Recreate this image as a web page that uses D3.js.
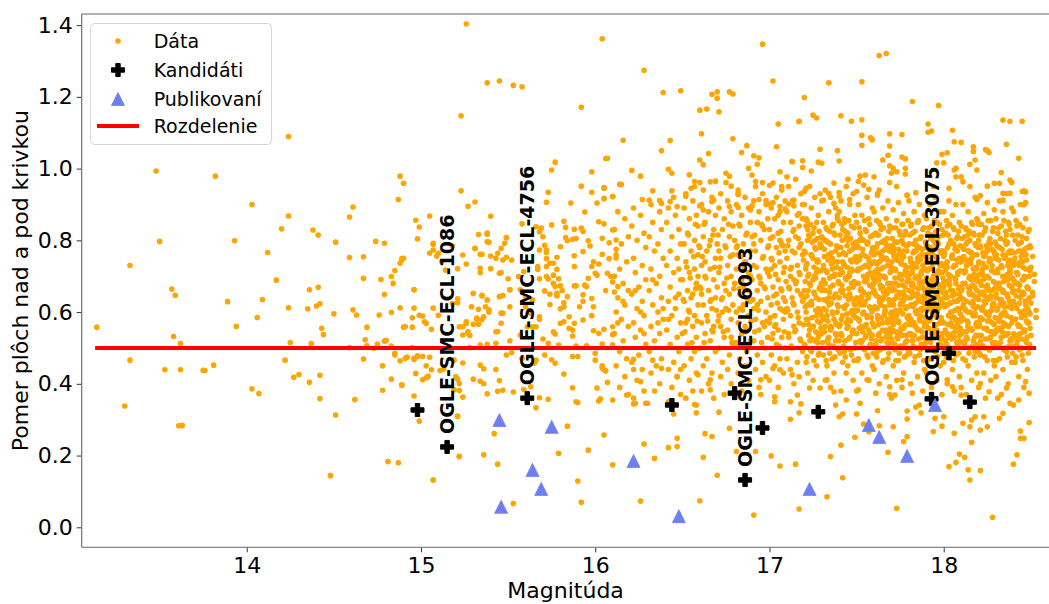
<!DOCTYPE html>
<html>
<head>
<meta charset="utf-8">
<script src="https://cdn.jsdelivr.net/npm/d3@7"></script>
<style>
  body { margin: 0; background: #fff; }
  svg { display: block; font-family: "DejaVu Sans", sans-serif; }
</style>
</head>
<body>
<div id="chart-area"></div>
<script>
// ticks, legend, split line
var xTicks = [14, 15, 16, 17, 18];
var yTicks = [0.0, 0.2, 0.4, 0.6, 0.8, 1.0, 1.2, 1.4];
var legendLabels = ["Dáta", "Kandidáti", "Publikovaní", "Rozdelenie"];
var splitRatio = 0.5;
var splitFrom = 13.13, splitTo = 18.53;

// candidates (black plus) and published (blue triangles)
var candMag   = [14.98, 15.15, 15.61, 16.44, 16.80, 16.86, 16.96, 17.28, 17.93, 18.03, 18.15];
var candRatio = [0.327, 0.224, 0.360, 0.341, 0.374, 0.132, 0.277, 0.322, 0.358, 0.485, 0.349];
var candNames = ["", "OGLE-SMC-ECL-1086", "OGLE-SMC-ECL-4756", "", "", "OGLE-SMC-ECL-6093", "", "", "OGLE-SMC-ECL-3075", "", ""];
var pubMag   = [15.45, 15.46, 15.64, 15.69, 15.75, 16.22, 16.48, 17.23, 17.57, 17.63, 17.79, 17.95];
var pubRatio = [0.299, 0.057, 0.160, 0.107, 0.280, 0.185, 0.031, 0.107, 0.285, 0.252, 0.199, 0.341];

// data points [magnitude, ratio], split by region
var dataLeft = [
  [13.14,0.558],[13.30,0.338],[13.33,0.730],[13.33,0.466],[13.48,0.993],[13.50,0.797],[13.53,0.439],[13.57,0.664],
  [13.58,0.532],[13.59,0.647],[13.61,0.283],[13.62,0.512],[13.62,0.439],[13.63,0.284],[13.75,0.438],[13.76,0.437],
  [13.81,0.452],[13.82,0.979],[13.89,0.629],[13.93,0.799],[13.94,0.560],[14.03,0.900],[14.03,0.386],[14.06,0.585],
  [14.07,0.373],[14.09,0.635],[14.12,0.766],[14.17,0.689],[14.20,0.832],[14.22,0.466],[14.24,1.089],[14.24,0.868],
  [14.24,0.612],[14.25,0.515],[14.27,0.418],[14.30,0.426],[14.35,0.609],[14.36,0.662],[14.36,0.404],[14.37,0.512],
  [14.38,0.829],[14.40,0.617],[14.41,0.815],[14.41,0.669],[14.42,0.623],[14.42,0.424],[14.42,0.359],[14.43,0.555],
  [14.44,0.537],[14.48,0.144],[14.50,0.595],[14.51,0.795],[14.51,0.313],[14.59,0.865],[14.59,0.752],[14.59,0.501],
  [14.61,0.893],[14.61,0.606],[14.62,0.356],[14.63,0.592],[14.67,0.754],[14.67,0.694],[14.67,0.469],[14.68,0.523],
  [14.69,0.558],[14.69,0.506],[14.73,0.499],[14.74,0.797],[14.75,0.511],[14.76,0.592],[14.77,0.691],[14.78,0.450],
  [14.78,0.382],[14.79,0.792],[14.79,0.649],[14.79,0.519],[14.80,0.521],[14.81,0.183],[14.83,0.699],[14.83,0.599],
  [14.83,0.505],[14.83,0.413],[14.84,0.680],[14.85,0.716],[14.85,0.480],[14.85,0.485],[14.87,0.914],[14.87,0.180],
  [14.88,0.979],[14.88,0.736],[14.88,0.612],[14.88,0.464],[14.89,0.749],[14.89,0.396],[14.90,0.959],[14.90,0.558],
  [14.91,0.471],[14.92,0.474],[14.95,0.584],[14.95,0.558],[14.95,0.501],[14.96,0.611],[14.96,0.662],[14.96,0.471],
  [14.96,0.468],[14.96,0.366],[14.97,0.856],[14.97,0.429],[14.98,0.804],[14.98,0.476],[14.98,0.478],[14.99,0.837],
  [14.99,0.296],[14.99,0.591],[14.89,0.745],[14.91,0.559],[14.89,0.397]
];

var dataMid = [
  [15.26,1.403],[16.04,1.362],[15.38,1.239],[15.45,1.244],[15.53,1.232],[15.58,1.228],[15.23,1.147],[15.92,1.171],
  [16.06,1.028],[15.77,1.018],[15.75,0.996],[15.98,0.991],[15.92,0.951],[15.23,0.938],[15.73,0.934],[15.72,0.906],
  [15.98,0.934],[16.05,0.947],[16.05,0.916],[16.10,0.922],[16.01,0.904],[16.14,0.956],[15.27,0.895],[15.31,0.907],
  [15.86,0.904],[15.05,0.868],[15.40,0.867],[15.94,0.879],[16.02,0.852],[16.05,0.846],[15.82,0.853],[15.83,0.836],
  [15.88,0.831],[15.92,0.834],[15.93,0.825],[15.75,0.843],[15.69,0.834],[15.68,0.824],[15.58,0.846],[15.33,0.816],
  [15.38,0.817],[15.39,0.795],[15.49,0.807],[15.48,0.792],[15.07,0.792],[15.07,0.773],[15.09,0.756],[15.05,0.764],
  [15.18,0.784],[15.31,0.778],[15.34,0.761],[15.40,0.756],[15.44,0.764],[15.43,0.750],[15.47,0.745],[15.52,0.745],
  [15.24,0.759],[15.26,0.734],[15.21,0.721],[15.14,0.717],[15.40,0.721],[15.45,0.708],[15.46,0.710],[15.50,0.693],
  [15.34,0.710],[15.30,0.652],[15.35,0.647],[15.47,0.646],[15.51,0.662],[15.71,0.786],[15.68,0.773],[15.72,0.766],
  [15.72,0.749],[15.78,0.753],[15.74,0.736],[15.76,0.736],[15.72,0.727],[15.78,0.719],[15.67,0.719],[15.68,0.693],
  [15.73,0.692],[15.76,0.703],[15.79,0.693],[15.77,0.671],[15.80,0.673],[15.81,0.660],[15.71,0.659],[15.74,0.650],
  [15.78,0.645],[15.83,0.808],[15.84,0.799],[15.87,0.803],[15.89,0.805],[15.88,0.757],[15.88,0.727],[15.80,0.782],
  [15.96,0.799],[15.97,0.784],[15.93,0.769],[15.99,0.740],[16.02,0.734],[15.98,0.727],[16.04,0.806],[16.08,0.793],
  [16.10,0.829],[16.12,0.801],[16.12,0.775],[16.04,0.761],[16.08,0.749],[16.12,0.751],[16.00,0.708],[16.01,0.703],
  [16.07,0.708],[16.09,0.699],[15.96,0.694],[15.89,0.673],[15.94,0.675],[15.93,0.648],[15.88,0.673],[16.06,0.660],
  [16.10,0.684],[16.13,0.671],[16.11,0.656],
  [15.07,0.789],[15.10,0.764],[15.12,0.740],[14.90,0.750],[14.96,0.662],[15.01,0.589],[15.03,0.569],[15.07,0.611],
  [15.10,0.591],[15.18,0.624],[15.21,0.637],[15.21,0.626],[14.92,0.474],[15.03,0.450],[15.06,0.439],[15.04,0.420],
  [15.01,0.411],[15.20,0.420],[15.22,0.401],[15.19,0.383],
  [15.38,0.820],[15.31,0.777],[15.38,0.796],[15.35,0.761],[15.49,0.753],[15.49,0.808],[15.46,0.778],[15.34,0.722],
  [15.35,0.645],[15.38,0.634],[15.37,0.615],[15.33,0.608],[15.29,0.615],[15.39,0.600],[15.32,0.583],[15.36,0.587],
  [15.30,0.566],[15.43,0.545],[15.46,0.597],[15.51,0.615],[15.51,0.662],[15.45,0.643],[15.46,0.569],[15.26,0.573],
  [15.22,0.559],[15.27,0.545],[15.24,0.536],[15.56,0.699],[15.59,0.713],[15.57,0.662],[15.60,0.643],[15.64,0.634],
  [15.60,0.615],[15.63,0.597],[15.68,0.587],[15.66,0.559],[15.61,0.559],[15.57,0.536],[15.66,0.838],[15.70,0.810],
  [15.72,0.773],[15.67,0.727],[15.72,0.699],[15.76,0.680],[15.78,0.652],[15.84,0.643],[15.82,0.615],[15.85,0.587],
  [15.80,0.569],[15.76,0.545],[15.87,0.550],[15.95,0.671],[15.98,0.638],[15.91,0.615],
  [15.07,0.132],[15.22,0.198],[15.36,0.202],[15.44,0.176],[15.42,0.261],[15.53,0.066],[15.79,0.206],[15.84,0.282],
  [15.90,0.129],[15.92,0.070],[15.96,0.215],[15.21,0.309],[15.66,0.333],[15.73,0.357],[15.68,0.361],[15.90,0.348],
  [16.03,0.358],[15.38,0.372],[15.44,0.379],[15.47,0.382],[15.53,0.377],[15.59,0.384],[15.24,0.363],[15.22,0.381],
  [15.63,0.392],[16.07,0.404],[16.01,0.388],[15.87,0.389],[15.30,0.413],[15.34,0.407],[15.36,0.400],[15.45,0.409],
  [15.03,0.417],[15.04,0.421],[15.21,0.413],[15.82,0.427],[16.04,0.444],[16.06,0.436],[16.04,0.450],[15.34,0.452],
  [15.36,0.442],[15.43,0.440],[15.11,0.437],[15.13,0.441],[15.24,0.458],[15.05,0.474],[15.49,0.480],[15.52,0.487],
  [15.71,0.480],[15.75,0.467],[15.77,0.457],[15.87,0.476],[15.90,0.476],[16.00,0.485],[16.00,0.466],[15.58,0.471],
  [15.65,0.457],[15.66,0.466],[15.19,0.466],[15.01,0.476],[15.28,0.501],[15.34,0.508],[15.38,0.510],[15.43,0.513],
  [15.51,0.520],[15.73,0.513],[15.79,0.508],[15.89,0.505],[15.95,0.506],[16.04,0.511],[16.10,0.509],[15.06,0.552],
  [15.02,0.573],[15.26,0.569],[15.27,0.541],[15.28,0.535],[15.24,0.559],[15.33,0.566],[15.35,0.579],[15.32,0.580],
  [15.39,0.606],[15.44,0.546],[15.47,0.597],[15.64,0.559],[15.68,0.580],[15.70,0.525],[15.74,0.621],[15.77,0.539],
  [15.82,0.573],[15.85,0.555],[15.87,0.533],[15.88,0.569],[15.93,0.578],[15.98,0.590],[15.99,0.615],[15.99,0.548],
  [16.02,0.541],[16.05,0.552],[16.10,0.559],[16.10,0.537],[15.80,0.609],[15.82,0.626],[15.93,0.630],[15.21,0.310],
  [15.22,0.197],[15.89,0.350],[16.02,0.352],[15.07,0.132]
];

var dataTop = [
  [16.96,1.347],[16.28,1.274],[17.02,1.244],[16.39,1.212],[16.49,1.217],[16.67,1.207],[16.70,1.214],[16.70,1.196],
  [16.77,1.214],[16.79,1.208],[16.60,1.163],[16.64,1.166],[16.71,1.158],[17.05,1.124],[17.17,1.131],[16.16,1.079],
  [16.43,1.078],[16.61,1.097],[16.79,1.083],[16.38,1.050],[16.65,1.042],[16.87,1.064],[16.84,1.045],[17.04,1.061],
  [16.07,1.029],[16.91,1.036],[16.94,1.030],[17.13,1.020],[16.60,1.024],[16.62,1.011],[16.21,0.995],[16.26,0.979],
  [16.42,0.998],[16.44,0.987],[16.54,0.983],[16.57,0.964],[16.60,0.961],[16.66,0.963],[16.69,0.965],[16.88,1.001],
  [16.93,1.012],[16.90,0.982],[16.92,0.964],[16.96,0.961],[17.00,0.953],[17.06,0.991],[17.07,0.950],[17.10,0.977],
  [16.75,0.987],[16.77,0.979],[16.75,0.961],[16.78,0.951],[16.82,0.929],[16.15,0.956],[16.05,0.945],[16.10,0.922],
  [16.05,0.917],[16.27,0.914],[16.31,0.912],[16.33,0.938],[16.37,0.911],[16.38,0.903],[16.43,0.908],[16.44,0.938],
  [16.45,0.920],[16.47,0.894],[16.52,0.923],[16.55,0.945],[16.57,0.950],[16.60,0.896],[16.62,0.885],[16.67,0.908],
  [16.68,0.912],[16.77,0.894],[16.82,0.928],[16.82,0.892],[16.89,0.885],[16.90,0.896],[16.94,0.914],[16.98,0.911],
  [17.00,0.901],[17.02,0.905],[17.06,0.894],[17.09,0.887],[17.11,0.901],[17.14,0.896],[17.17,0.875],
  [17.63,1.315],[17.67,1.321],[17.34,1.239],[17.53,1.242],[17.20,1.198],[17.82,1.187],[17.97,1.176],[17.25,1.149],
  [17.27,1.141],[17.41,1.147],[17.47,1.132],[17.53,1.136],[17.17,1.132],[17.91,1.124],[17.91,1.101],[17.93,1.105],
  [18.34,1.135],[18.38,1.132],[18.45,1.132],[18.05,1.107],[18.06,1.075],[18.10,1.073],[17.53,1.093],[17.58,1.086],
  [17.59,1.080],[17.69,1.097],[17.76,1.095],[17.69,1.063],[17.53,1.065],[18.17,1.061],[18.24,1.053],[18.26,1.045],
  [18.36,1.068],[18.43,1.029],[17.13,1.019],[17.19,1.022],[17.29,1.054],[17.39,1.050],[17.40,1.021],[17.28,1.018],
  [17.30,1.015],[17.19,1.003],[17.24,0.993],[17.65,1.024],[17.68,1.037],[17.69,1.008],[17.76,1.032],[17.78,1.027],
  [17.71,1.001],[17.78,1.001],[17.70,0.987],[17.73,0.991],[17.78,0.985],[17.99,1.040],[18.02,1.044],[17.96,1.016],
  [18.00,1.016],[18.06,0.996],[18.07,1.001],[18.10,0.977],[18.15,1.012],[18.18,1.024],[18.19,0.996],[18.17,1.048],
  [18.25,1.050],[18.32,0.959],[18.33,0.989],[18.38,0.968],[18.39,0.961],[18.46,0.938],[18.47,0.935],[18.34,0.931],
  [17.45,0.970],[17.52,0.979],[17.51,0.964],[17.55,0.982],[17.60,0.977],[17.54,0.954],[17.21,0.945],[17.20,0.936],
  [17.14,0.912],[17.34,0.931],[17.40,0.933],[17.40,0.922],[17.31,0.912],[17.37,0.903],[17.46,0.914],[17.50,0.936],
  [17.57,0.942],[17.63,0.940],[17.62,0.926],[17.69,0.961],[17.73,0.950],[17.79,0.926],[17.84,0.933],[17.94,0.950],
  [18.03,0.945],[18.07,0.977],[18.11,0.963],[18.15,0.950],[18.19,0.914],[18.25,0.951],[18.29,0.959],[18.34,0.912],
  [18.38,0.931],[18.45,0.936],[18.46,0.899],[18.47,0.905]
];

var data16 = [
  [16.13,0.88],[16.17,0.86],[16.11,0.83],[16.19,0.81],[16.15,0.79],[16.12,0.76],[16.18,0.74],[16.14,0.72],[16.11,0.70],
  [16.16,0.68],[16.19,0.66],[16.13,0.64],[16.17,0.62],[16.12,0.60],[16.15,0.58],[16.19,0.56],[16.11,0.54],[16.16,0.52],
  [16.14,0.49],[16.18,0.47],[16.12,0.45],[16.17,0.42],[16.14,0.39],[16.19,0.37],[16.16,0.63],[16.13,0.57],
  [16.22,0.89],[16.26,0.87],[16.21,0.84],[16.28,0.82],[16.24,0.80],[16.29,0.78],[16.22,0.75],[16.27,0.73],[16.23,0.71],
  [16.29,0.69],[16.25,0.67],[16.21,0.65],[16.27,0.63],[16.24,0.61],[16.28,0.59],[16.22,0.57],[16.26,0.55],[16.23,0.53],
  [16.29,0.51],[16.25,0.48],[16.21,0.46],[16.27,0.44],[16.24,0.41],[16.28,0.38],[16.22,0.36],[16.26,0.60],[16.23,0.66],[16.28,0.54],
  [16.32,0.90],[16.37,0.88],[16.33,0.85],[16.38,0.83],[16.31,0.81],[16.36,0.79],[16.34,0.77],[16.39,0.75],[16.32,0.72],
  [16.37,0.70],[16.35,0.68],[16.31,0.66],[16.38,0.64],[16.33,0.62],[16.36,0.60],[16.39,0.58],[16.32,0.56],[16.37,0.54],
  [16.34,0.52],[16.31,0.49],[16.38,0.47],[16.35,0.45],[16.32,0.43],[16.37,0.40],[16.34,0.38],[16.39,0.61],[16.36,0.57],[16.33,0.69],
  [16.42,0.89],[16.46,0.87],[16.41,0.85],[16.48,0.83],[16.44,0.81],[16.49,0.79],[16.43,0.77],[16.47,0.75],[16.41,0.73],
  [16.45,0.71],[16.49,0.69],[16.43,0.67],[16.48,0.65],[16.42,0.63],[16.46,0.61],[16.44,0.59],[16.49,0.57],[16.41,0.55],
  [16.47,0.53],[16.43,0.51],[16.48,0.49],[16.45,0.46],[16.42,0.44],[16.47,0.42],[16.44,0.39],[16.49,0.37],[16.46,0.64],[16.42,0.58],[16.48,0.72],
  [16.52,0.93],[16.56,0.91],[16.51,0.89],[16.58,0.87],[16.54,0.86],[16.59,0.84],[16.53,0.82],[16.57,0.80],[16.51,0.79],
  [16.55,0.77],[16.59,0.76],[16.52,0.74],[16.57,0.72],[16.54,0.71],[16.50,0.69],[16.58,0.68],[16.53,0.66],[16.56,0.65],
  [16.51,0.63],[16.59,0.62],[16.54,0.60],[16.57,0.59],[16.52,0.57],[16.56,0.56],[16.50,0.54],[16.58,0.53],[16.53,0.51],
  [16.57,0.49],[16.55,0.47],[16.51,0.45],[16.58,0.43],[16.54,0.41],[16.56,0.38],[16.52,0.36],[16.55,0.64],[16.59,0.70],[16.53,0.58],
  [16.62,0.94],[16.67,0.92],[16.61,0.90],[16.65,0.88],[16.69,0.87],[16.63,0.85],[16.68,0.83],[16.62,0.81],[16.66,0.80],
  [16.60,0.78],[16.64,0.77],[16.69,0.75],[16.61,0.73],[16.66,0.72],[16.63,0.70],[16.68,0.69],[16.60,0.67],[16.65,0.66],
  [16.69,0.64],[16.62,0.62],[16.67,0.61],[16.64,0.59],[16.61,0.57],[16.68,0.56],[16.63,0.54],[16.66,0.52],[16.60,0.50],
  [16.69,0.49],[16.64,0.47],[16.62,0.45],[16.67,0.43],[16.65,0.40],[16.61,0.38],[16.68,0.36],[16.66,0.63],[16.63,0.74],[16.67,0.55],[16.61,0.65],
  [16.72,0.93],[16.76,0.91],[16.71,0.89],[16.78,0.88],[16.74,0.86],[16.79,0.84],[16.73,0.83],[16.77,0.81],[16.70,0.79],
  [16.75,0.78],[16.79,0.76],[16.72,0.75],[16.76,0.73],[16.71,0.71],[16.78,0.70],[16.74,0.68],[16.70,0.67],[16.77,0.65],
  [16.73,0.64],[16.79,0.62],[16.75,0.61],[16.71,0.59],[16.78,0.58],[16.72,0.56],[16.76,0.55],[16.74,0.53],[16.79,0.51],
  [16.71,0.50],[16.77,0.48],[16.73,0.46],[16.76,0.44],[16.72,0.42],[16.78,0.40],[16.74,0.37],[16.75,0.66],[16.71,0.77],[16.78,0.53],[16.73,0.60],
  [16.82,0.94],[16.86,0.92],[16.81,0.90],[16.88,0.89],[16.84,0.87],[16.89,0.85],[16.83,0.84],[16.87,0.82],[16.80,0.80],
  [16.85,0.79],[16.89,0.77],[16.82,0.76],[16.86,0.74],[16.81,0.72],[16.88,0.71],[16.84,0.69],[16.80,0.68],[16.87,0.66],
  [16.83,0.65],[16.89,0.63],[16.85,0.62],[16.81,0.60],[16.88,0.59],[16.82,0.57],[16.86,0.56],[16.84,0.54],[16.89,0.52],
  [16.81,0.51],[16.87,0.49],[16.83,0.47],[16.86,0.45],[16.82,0.43],[16.88,0.41],[16.84,0.38],[16.85,0.67],[16.81,0.78],[16.87,0.55],[16.83,0.61],[16.89,0.70],
  [16.92,0.95],[16.96,0.93],[16.91,0.91],[16.98,0.90],[16.94,0.88],[16.99,0.86],[16.93,0.85],[16.97,0.83],[16.90,0.81],
  [16.95,0.80],[16.99,0.78],[16.92,0.77],[16.96,0.75],[16.91,0.73],[16.98,0.72],[16.94,0.70],[16.90,0.69],[16.97,0.67],
  [16.93,0.66],[16.99,0.64],[16.95,0.63],[16.91,0.61],[16.98,0.60],[16.92,0.58],[16.96,0.57],[16.94,0.55],[16.99,0.53],
  [16.91,0.52],[16.97,0.50],[16.93,0.48],[16.96,0.46],[16.92,0.44],[16.98,0.42],[16.94,0.39],[16.95,0.37],[16.95,0.68],
  [16.91,0.79],[16.97,0.56],[16.93,0.62],[16.99,0.71],[16.96,0.84],
  [16.555,0.515],[16.515,0.545],[16.585,0.575],[16.535,0.605],[16.505,0.635],[16.575,0.665],[16.545,0.695],[16.525,0.725],
  [16.565,0.755],[16.595,0.785],[16.535,0.815],[16.575,0.845],
  [16.625,0.515],[16.675,0.545],[16.645,0.575],[16.695,0.605],[16.665,0.635],[16.605,0.665],[16.635,0.695],[16.685,0.725],
  [16.615,0.755],[16.655,0.785],[16.675,0.815],[16.625,0.845],
  [16.785,0.515],[16.735,0.545],[16.705,0.575],[16.765,0.605],[16.725,0.635],[16.795,0.665],[16.755,0.695],[16.715,0.725],
  [16.775,0.755],[16.745,0.785],[16.705,0.815],[16.765,0.845],
  [16.805,0.515],[16.865,0.545],[16.895,0.575],[16.845,0.605],[16.875,0.635],[16.825,0.665],[16.885,0.695],[16.855,0.725],
  [16.835,0.755],[16.815,0.785],[16.865,0.815],[16.825,0.845],
  [16.955,0.515],[16.915,0.545],[16.985,0.575],[16.935,0.605],[16.905,0.635],[16.975,0.665],[16.945,0.695],[16.925,0.725],
  [16.965,0.755],[16.995,0.785],[16.915,0.815],[16.955,0.845]
];

var data17 = [
  [17.02,0.96],[17.07,0.94],[17.04,0.92],[17.09,0.91],[17.01,0.89],[17.06,0.88],[17.03,0.86],[17.08,0.85],[17.00,0.83],
  [17.05,0.82],[17.02,0.81],[17.07,0.79],[17.04,0.78],[17.09,0.77],[17.01,0.75],[17.06,0.74],[17.03,0.73],[17.08,0.71],
  [17.00,0.70],[17.05,0.69],[17.02,0.67],[17.07,0.66],[17.04,0.65],[17.09,0.63],[17.01,0.62],[17.06,0.61],[17.03,0.59],
  [17.08,0.58],[17.00,0.57],[17.05,0.55],[17.02,0.54],[17.07,0.53],[17.04,0.51],[17.09,0.50],[17.01,0.48],[17.06,0.47],
  [17.03,0.45],[17.08,0.43],[17.00,0.41],[17.05,0.39],[17.08,0.64],[17.01,0.72],[17.06,0.80],[17.03,0.56],[17.05,0.87],[17.09,0.60],
  [17.15,0.97],[17.11,0.95],[17.18,0.93],[17.13,0.91],[17.19,0.90],[17.10,0.88],[17.16,0.87],[17.12,0.85],[17.17,0.84],
  [17.14,0.83],[17.15,0.81],[17.11,0.80],[17.18,0.79],[17.13,0.77],[17.19,0.76],[17.10,0.75],[17.16,0.73],[17.12,0.72],
  [17.17,0.71],[17.14,0.69],[17.15,0.68],[17.11,0.67],[17.18,0.65],[17.13,0.64],[17.19,0.63],[17.10,0.61],[17.16,0.60],
  [17.12,0.59],[17.17,0.57],[17.14,0.56],[17.15,0.55],[17.11,0.53],[17.18,0.52],[17.13,0.50],[17.19,0.49],[17.10,0.47],
  [17.16,0.46],[17.12,0.44],[17.17,0.42],[17.14,0.40],[17.12,0.70],[17.17,0.78],[17.14,0.62],[17.19,0.86],[17.11,0.54],[17.16,0.66],
  [17.23,0.95],[17.29,0.93],[17.26,0.92],[17.20,0.90],[17.24,0.89],[17.28,0.87],[17.21,0.86],[17.27,0.85],[17.22,0.83],
  [17.25,0.82],[17.23,0.81],[17.29,0.79],[17.26,0.78],[17.20,0.77],[17.24,0.76],[17.28,0.74],[17.21,0.73],[17.27,0.72],
  [17.22,0.70],[17.25,0.69],[17.23,0.68],[17.29,0.67],[17.26,0.65],[17.20,0.64],[17.24,0.63],[17.28,0.61],[17.21,0.60],
  [17.27,0.59],[17.22,0.58],[17.25,0.56],[17.23,0.55],[17.29,0.54],[17.26,0.52],[17.20,0.51],[17.24,0.49],[17.28,0.48],
  [17.21,0.46],[17.27,0.45],[17.22,0.43],[17.25,0.41],[17.27,0.71],[17.20,0.66],[17.25,0.75],[17.29,0.57],[17.22,0.62],
  [17.26,0.80],[17.21,0.84],[17.28,0.53],
  [17.37,0.96],[17.32,0.94],[17.35,0.92],[17.30,0.91],[17.38,0.89],[17.34,0.88],[17.39,0.87],[17.31,0.85],[17.36,0.84],
  [17.33,0.83],[17.37,0.82],[17.32,0.80],[17.35,0.79],[17.30,0.78],[17.38,0.77],[17.34,0.76],[17.39,0.74],[17.31,0.73],
  [17.36,0.72],[17.33,0.71],[17.37,0.70],[17.32,0.68],[17.35,0.67],[17.30,0.66],[17.38,0.65],[17.34,0.64],[17.39,0.62],
  [17.31,0.61],[17.36,0.60],[17.33,0.59],[17.37,0.58],[17.32,0.56],[17.35,0.55],[17.30,0.54],[17.38,0.52],[17.34,0.51],
  [17.39,0.50],[17.31,0.48],[17.36,0.47],[17.33,0.45],[17.37,0.43],[17.32,0.41],[17.35,0.39],[17.31,0.69],[17.36,0.75],
  [17.33,0.63],[17.38,0.57],[17.30,0.81],[17.34,0.53],[17.39,0.86],
  [17.44,0.95],[17.48,0.93],[17.41,0.91],[17.46,0.90],[17.40,0.88],[17.49,0.87],[17.43,0.86],[17.47,0.84],[17.42,0.83],
  [17.45,0.82],[17.44,0.81],[17.48,0.79],[17.41,0.78],[17.46,0.77],[17.40,0.76],[17.49,0.75],[17.43,0.73],[17.47,0.72],
  [17.42,0.71],[17.45,0.70],[17.44,0.69],[17.48,0.67],[17.41,0.66],[17.46,0.65],[17.40,0.64],[17.49,0.63],[17.43,0.61],
  [17.47,0.60],[17.42,0.59],[17.45,0.58],[17.44,0.57],[17.48,0.55],[17.41,0.54],[17.46,0.53],[17.40,0.52],[17.49,0.50],
  [17.43,0.49],[17.47,0.48],[17.42,0.46],[17.45,0.45],[17.44,0.43],[17.48,0.41],[17.41,0.38],[17.47,0.68],[17.42,0.74],
  [17.49,0.62],[17.40,0.56],[17.45,0.80],[17.43,0.85],[17.41,0.66],[17.46,0.71],[17.48,0.59],
  [17.055,0.505],[17.015,0.525],[17.085,0.545],[17.035,0.565],[17.005,0.585],[17.075,0.605],[17.045,0.625],[17.025,0.645],
  [17.065,0.665],[17.095,0.685],[17.035,0.705],[17.085,0.725],[17.015,0.745],[17.055,0.765],[17.075,0.785],[17.005,0.805],[17.065,0.825],
  [17.125,0.505],[17.175,0.525],[17.145,0.545],[17.195,0.565],[17.165,0.585],[17.105,0.605],[17.135,0.625],[17.185,0.645],
  [17.115,0.665],[17.155,0.685],[17.175,0.705],[17.125,0.725],[17.195,0.745],[17.145,0.765],[17.105,0.785],[17.165,0.805],[17.135,0.825]
];

var data18 = [
  [17.56,0.92],[17.51,0.90],[17.59,0.89],[17.53,0.87],[17.57,0.86],[17.50,0.85],[17.55,0.83],[17.52,0.82],[17.58,0.81],
  [17.54,0.80],[17.56,0.79],[17.51,0.78],[17.59,0.77],[17.53,0.76],[17.57,0.75],[17.50,0.74],[17.55,0.73],[17.52,0.72],
  [17.58,0.71],[17.54,0.70],[17.56,0.69],[17.51,0.68],[17.59,0.67],[17.53,0.66],[17.57,0.65],[17.50,0.64],[17.55,0.63],
  [17.52,0.62],[17.58,0.61],[17.54,0.60],[17.56,0.59],[17.51,0.58],[17.59,0.57],[17.53,0.56],[17.57,0.55],[17.50,0.54],
  [17.55,0.53],[17.52,0.52],[17.58,0.51],[17.54,0.50],[17.56,0.48],[17.51,0.47],[17.59,0.45],[17.53,0.43],[17.57,0.41],
  [17.50,0.38],[17.54,0.655],[17.58,0.705],[17.51,0.625],[17.56,0.585],[17.52,0.755],[17.59,0.535],[17.55,0.685],
  [17.50,0.605],[17.57,0.725],[17.53,0.645],
  [17.62,0.93],[17.68,0.91],[17.65,0.89],[17.60,0.88],[17.67,0.86],[17.63,0.85],[17.69,0.84],[17.64,0.83],[17.61,0.82],
  [17.66,0.80],[17.62,0.79],[17.68,0.78],[17.65,0.77],[17.60,0.76],[17.67,0.75],[17.63,0.74],[17.69,0.73],[17.64,0.72],
  [17.61,0.71],[17.66,0.70],[17.62,0.69],[17.68,0.68],[17.65,0.67],[17.60,0.66],[17.67,0.65],[17.63,0.64],[17.69,0.63],
  [17.64,0.62],[17.61,0.61],[17.66,0.60],[17.62,0.59],[17.68,0.58],[17.65,0.57],[17.60,0.56],[17.67,0.55],[17.63,0.54],
  [17.69,0.53],[17.64,0.52],[17.61,0.51],[17.66,0.50],[17.62,0.49],[17.68,0.47],[17.65,0.46],[17.60,0.44],[17.67,0.42],
  [17.63,0.40],[17.69,0.37],[17.64,0.665],[17.61,0.715],[17.66,0.615],[17.69,0.575],[17.63,0.765],[17.67,0.545],
  [17.60,0.695],[17.65,0.635],[17.62,0.815],[17.68,0.655],[17.64,0.745],
  [17.79,0.925],[17.74,0.905],[17.71,0.885],[17.77,0.875],[17.73,0.855],[17.76,0.845],[17.70,0.835],[17.78,0.825],
  [17.75,0.815],[17.72,0.795],[17.79,0.785],[17.74,0.775],[17.71,0.765],[17.77,0.755],[17.73,0.745],[17.76,0.735],
  [17.70,0.725],[17.78,0.715],[17.75,0.705],[17.72,0.695],[17.79,0.685],[17.74,0.675],[17.71,0.665],[17.77,0.655],
  [17.73,0.645],[17.76,0.635],[17.70,0.625],[17.78,0.615],[17.75,0.605],[17.72,0.595],[17.79,0.585],[17.74,0.575],
  [17.71,0.565],[17.77,0.555],[17.73,0.545],[17.76,0.535],[17.70,0.525],[17.78,0.515],[17.75,0.505],[17.72,0.495],
  [17.79,0.48],[17.74,0.465],[17.71,0.45],[17.77,0.43],[17.73,0.41],[17.76,0.39],[17.70,0.36],[17.72,0.66],[17.78,0.71],
  [17.75,0.62],[17.71,0.58],[17.77,0.77],[17.74,0.54],[17.79,0.70],[17.73,0.64],[17.76,0.80],[17.70,0.60],[17.75,0.74],
  [17.80,0.91],[17.86,0.90],[17.83,0.88],[17.89,0.87],[17.85,0.85],[17.81,0.84],[17.88,0.83],[17.82,0.82],[17.87,0.81],
  [17.84,0.80],[17.80,0.79],[17.86,0.78],[17.83,0.77],[17.89,0.76],[17.85,0.75],[17.81,0.74],[17.88,0.73],[17.82,0.72],
  [17.87,0.71],[17.84,0.70],[17.80,0.69],[17.86,0.68],[17.83,0.67],[17.89,0.66],[17.85,0.65],[17.81,0.64],[17.88,0.63],
  [17.82,0.62],[17.87,0.61],[17.84,0.60],[17.80,0.59],[17.86,0.58],[17.83,0.57],[17.89,0.56],[17.85,0.55],[17.81,0.54],
  [17.88,0.53],[17.82,0.52],[17.87,0.51],[17.84,0.50],[17.80,0.49],[17.86,0.48],[17.83,0.46],[17.89,0.44],[17.85,0.42],
  [17.81,0.40],[17.88,0.38],[17.82,0.655],[17.87,0.705],[17.84,0.625],[17.80,0.585],[17.86,0.755],[17.83,0.535],
  [17.89,0.685],[17.85,0.605],[17.81,0.725],[17.88,0.645],[17.82,0.565],
  [17.95,0.92],[17.92,0.90],[17.98,0.88],[17.90,0.86],[17.96,0.85],[17.93,0.84],[17.99,0.83],[17.91,0.82],[17.97,0.81],
  [17.94,0.80],[17.95,0.79],[17.92,0.78],[17.98,0.77],[17.90,0.76],[17.96,0.75],[17.93,0.74],[17.99,0.73],[17.91,0.72],
  [17.97,0.71],[17.94,0.70],[17.95,0.69],[17.92,0.68],[17.98,0.67],[17.90,0.66],[17.96,0.65],[17.93,0.64],[17.99,0.63],
  [17.91,0.62],[17.97,0.61],[17.94,0.60],[17.95,0.59],[17.92,0.58],[17.98,0.57],[17.90,0.56],[17.96,0.55],[17.93,0.54],
  [17.99,0.53],[17.91,0.52],[17.97,0.51],[17.94,0.50],[17.95,0.49],[17.92,0.47],[17.98,0.45],[17.90,0.43],[17.96,0.41],
  [17.93,0.39],[17.99,0.37],[17.91,0.665],[17.97,0.715],[17.94,0.615],[17.99,0.575],[17.92,0.765],[17.96,0.545],
  [17.90,0.695],[17.98,0.635],[17.93,0.815],[17.95,0.595],[17.91,0.745],
  [18.03,0.91],[18.07,0.90],[18.00,0.88],[18.05,0.87],[18.09,0.85],[18.02,0.84],[18.06,0.83],[18.01,0.82],[18.08,0.81],
  [18.04,0.80],[18.03,0.79],[18.07,0.78],[18.00,0.77],[18.05,0.76],[18.09,0.75],[18.02,0.74],[18.06,0.73],[18.01,0.72],
  [18.08,0.71],[18.04,0.70],[18.03,0.69],[18.07,0.68],[18.00,0.67],[18.05,0.66],[18.09,0.65],[18.02,0.64],[18.06,0.63],
  [18.01,0.62],[18.08,0.61],[18.04,0.60],[18.03,0.59],[18.07,0.58],[18.00,0.57],[18.05,0.56],[18.09,0.55],[18.02,0.54],
  [18.06,0.53],[18.01,0.52],[18.08,0.51],[18.04,0.50],[18.03,0.49],[18.07,0.48],[18.00,0.46],[18.05,0.44],[18.09,0.42],
  [18.02,0.40],[18.06,0.38],[18.01,0.655],[18.08,0.705],[18.04,0.625],[18.06,0.585],[18.00,0.755],[18.09,0.535],
  [18.03,0.685],[18.07,0.605],[18.02,0.725],[18.05,0.645],[18.08,0.565],
  [18.18,0.92],[18.11,0.90],[18.14,0.88],[18.19,0.86],[18.16,0.85],[18.10,0.84],[18.13,0.83],[18.17,0.82],[18.12,0.81],
  [18.15,0.80],[18.18,0.79],[18.11,0.78],[18.14,0.77],[18.19,0.76],[18.16,0.75],[18.10,0.74],[18.13,0.73],[18.17,0.72],
  [18.12,0.71],[18.15,0.70],[18.18,0.69],[18.11,0.68],[18.14,0.67],[18.19,0.66],[18.16,0.65],[18.10,0.64],[18.13,0.63],
  [18.17,0.62],[18.12,0.61],[18.15,0.60],[18.18,0.59],[18.11,0.58],[18.14,0.57],[18.19,0.56],[18.16,0.55],[18.10,0.54],
  [18.13,0.53],[18.17,0.52],[18.12,0.51],[18.15,0.50],[18.18,0.49],[18.11,0.47],[18.14,0.45],[18.19,0.43],[18.16,0.41],
  [18.10,0.39],[18.13,0.37],[18.15,0.665],[18.12,0.715],[18.17,0.615],[18.10,0.575],[18.16,0.765],[18.13,0.545],
  [18.19,0.695],[18.11,0.635],[18.14,0.815],[18.18,0.595],[18.12,0.745],
  [18.21,0.925],[18.25,0.905],[18.29,0.885],[18.23,0.875],[18.27,0.855],[18.20,0.845],[18.24,0.835],[18.28,0.825],
  [18.22,0.815],[18.26,0.795],[18.21,0.785],[18.25,0.775],[18.29,0.765],[18.23,0.755],[18.27,0.745],[18.20,0.735],
  [18.24,0.725],[18.28,0.715],[18.22,0.705],[18.26,0.695],[18.21,0.685],[18.25,0.675],[18.29,0.665],[18.23,0.655],
  [18.27,0.645],[18.20,0.635],[18.24,0.625],[18.28,0.615],[18.22,0.605],[18.26,0.595],[18.21,0.585],[18.25,0.575],
  [18.29,0.565],[18.23,0.555],[18.27,0.545],[18.20,0.535],[18.24,0.525],[18.28,0.515],[18.22,0.505],[18.26,0.495],
  [18.21,0.48],[18.25,0.465],[18.29,0.45],[18.23,0.43],[18.27,0.41],[18.20,0.39],[18.24,0.36],[18.26,0.66],[18.22,0.71],
  [18.28,0.62],[18.21,0.58],[18.25,0.77],[18.29,0.54],[18.23,0.70],[18.27,0.64],[18.20,0.80],[18.24,0.60],[18.26,0.74],
  [18.36,0.93],[18.32,0.91],[18.39,0.89],[18.34,0.88],[18.30,0.86],[18.37,0.85],[18.33,0.84],[18.38,0.83],[18.31,0.82],
  [18.35,0.80],[18.36,0.79],[18.32,0.78],[18.39,0.77],[18.34,0.76],[18.30,0.75],[18.37,0.74],[18.33,0.73],[18.38,0.72],
  [18.31,0.71],[18.35,0.70],[18.36,0.69],[18.32,0.68],[18.39,0.67],[18.34,0.66],[18.30,0.65],[18.37,0.64],[18.33,0.63],
  [18.38,0.62],[18.31,0.61],[18.35,0.60],[18.36,0.59],[18.32,0.58],[18.39,0.57],[18.34,0.56],[18.30,0.55],[18.37,0.54],
  [18.33,0.53],[18.38,0.52],[18.31,0.51],[18.35,0.50],[18.36,0.49],[18.32,0.47],[18.39,0.46],[18.34,0.44],[18.30,0.42],
  [18.37,0.40],[18.33,0.37],[18.31,0.665],[18.38,0.715],[18.35,0.615],[18.32,0.575],[18.37,0.765],[18.30,0.545],
  [18.39,0.695],[18.33,0.635],[18.36,0.815],[18.34,0.655],[18.38,0.745],
  [18.44,0.90],[18.40,0.88],[18.47,0.86],[18.42,0.84],[18.49,0.83],[18.45,0.81],[18.41,0.80],[18.48,0.78],[18.43,0.77],
  [18.46,0.76],[18.44,0.74],[18.40,0.73],[18.47,0.72],[18.42,0.71],[18.49,0.70],[18.45,0.69],[18.41,0.68],[18.48,0.67],
  [18.43,0.66],[18.46,0.65],[18.44,0.64],[18.40,0.63],[18.47,0.62],[18.42,0.61],[18.49,0.60],[18.45,0.59],[18.41,0.58],
  [18.48,0.57],[18.43,0.56],[18.46,0.55],[18.44,0.54],[18.40,0.53],[18.47,0.52],[18.42,0.51],[18.49,0.50],[18.45,0.48],
  [18.41,0.46],[18.48,0.44],[18.43,0.42],[18.46,0.39],[18.51,0.655],[18.52,0.705],[18.50,0.625],[18.53,0.585],
  [18.51,0.755],[18.50,0.535],[18.52,0.685],[18.53,0.605],[18.50,0.725],[18.51,0.645]
];

// second layer for the crowded core (ratio ~0.47-0.86)
var dataCore = [
  [17.255,0.465],[17.215,0.475],[17.285,0.485],[17.235,0.495],[17.205,0.505],[17.275,0.515],[17.245,0.525],[17.225,0.535],[17.265,0.545],[17.295,0.555],
  [17.225,0.565],[17.275,0.575],[17.245,0.585],[17.295,0.595],[17.265,0.605],[17.205,0.615],[17.235,0.625],[17.285,0.635],[17.215,0.645],[17.255,0.655],
  [17.285,0.665],[17.235,0.675],[17.205,0.685],[17.265,0.695],[17.225,0.705],[17.295,0.715],[17.255,0.725],[17.215,0.735],[17.275,0.745],[17.245,0.755],
  [17.205,0.765],[17.265,0.775],[17.295,0.785],[17.245,0.795],[17.275,0.805],[17.225,0.815],[17.285,0.825],[17.255,0.835],[17.235,0.845],[17.215,0.855],
  [17.325,0.465],[17.375,0.475],[17.345,0.485],[17.395,0.495],[17.365,0.505],[17.305,0.515],[17.335,0.525],[17.385,0.535],[17.315,0.545],[17.355,0.555],
  [17.385,0.565],[17.335,0.575],[17.305,0.585],[17.365,0.595],[17.325,0.605],[17.395,0.615],[17.355,0.625],[17.315,0.635],[17.375,0.645],[17.345,0.655],
  [17.305,0.665],[17.365,0.675],[17.395,0.685],[17.345,0.695],[17.375,0.705],[17.325,0.715],[17.385,0.725],[17.355,0.735],[17.335,0.745],[17.315,0.755],
  [17.355,0.765],[17.315,0.775],[17.385,0.785],[17.335,0.795],[17.305,0.805],[17.375,0.815],[17.345,0.825],[17.325,0.835],[17.365,0.845],[17.395,0.855],
  [17.485,0.465],[17.435,0.475],[17.405,0.485],[17.465,0.495],[17.425,0.505],[17.495,0.515],[17.455,0.525],[17.415,0.535],[17.475,0.545],[17.445,0.555],
  [17.405,0.565],[17.465,0.575],[17.495,0.585],[17.445,0.595],[17.475,0.605],[17.425,0.615],[17.485,0.625],[17.455,0.635],[17.435,0.645],[17.415,0.655],
  [17.455,0.665],[17.415,0.675],[17.485,0.685],[17.435,0.695],[17.405,0.705],[17.475,0.715],[17.445,0.725],[17.425,0.735],[17.465,0.745],[17.495,0.755],
  [17.425,0.765],[17.475,0.775],[17.445,0.785],[17.495,0.795],[17.465,0.805],[17.405,0.815],[17.435,0.825],[17.485,0.835],[17.415,0.845],[17.455,0.855],
  [17.505,0.465],[17.565,0.475],[17.595,0.485],[17.545,0.495],[17.575,0.505],[17.525,0.515],[17.585,0.525],[17.555,0.535],[17.535,0.545],[17.515,0.555],
  [17.555,0.565],[17.515,0.575],[17.585,0.585],[17.535,0.595],[17.505,0.605],[17.575,0.615],[17.545,0.625],[17.525,0.635],[17.565,0.645],[17.595,0.655],
  [17.525,0.665],[17.575,0.675],[17.545,0.685],[17.595,0.695],[17.565,0.705],[17.505,0.715],[17.535,0.725],[17.585,0.735],[17.515,0.745],[17.555,0.755],
  [17.585,0.765],[17.535,0.775],[17.505,0.785],[17.565,0.795],[17.525,0.805],[17.595,0.815],[17.555,0.825],[17.515,0.835],[17.575,0.845],[17.545,0.855],
  [17.655,0.465],[17.615,0.475],[17.685,0.485],[17.635,0.495],[17.605,0.505],[17.675,0.515],[17.645,0.525],[17.625,0.535],[17.665,0.545],[17.695,0.555],
  [17.625,0.565],[17.675,0.575],[17.645,0.585],[17.695,0.595],[17.665,0.605],[17.605,0.615],[17.635,0.625],[17.685,0.635],[17.615,0.645],[17.655,0.655],
  [17.685,0.665],[17.635,0.675],[17.605,0.685],[17.665,0.695],[17.625,0.705],[17.695,0.715],[17.655,0.725],[17.615,0.735],[17.675,0.745],[17.645,0.755],
  [17.605,0.765],[17.665,0.775],[17.695,0.785],[17.645,0.795],[17.675,0.805],[17.625,0.815],[17.685,0.825],[17.655,0.835],[17.635,0.845],[17.615,0.855],
  [17.725,0.465],[17.775,0.475],[17.745,0.485],[17.795,0.495],[17.765,0.505],[17.705,0.515],[17.735,0.525],[17.785,0.535],[17.715,0.545],[17.755,0.555],
  [17.785,0.565],[17.735,0.575],[17.705,0.585],[17.765,0.595],[17.725,0.605],[17.795,0.615],[17.755,0.625],[17.715,0.635],[17.775,0.645],[17.745,0.655],
  [17.705,0.665],[17.765,0.675],[17.795,0.685],[17.745,0.695],[17.775,0.705],[17.725,0.715],[17.785,0.725],[17.755,0.735],[17.735,0.745],[17.715,0.755],
  [17.755,0.765],[17.715,0.775],[17.785,0.785],[17.735,0.795],[17.705,0.805],[17.775,0.815],[17.745,0.825],[17.725,0.835],[17.765,0.845],[17.795,0.855],
  [17.885,0.465],[17.835,0.475],[17.805,0.485],[17.865,0.495],[17.825,0.505],[17.895,0.515],[17.855,0.525],[17.815,0.535],[17.875,0.545],[17.845,0.555],
  [17.805,0.565],[17.865,0.575],[17.895,0.585],[17.845,0.595],[17.875,0.605],[17.825,0.615],[17.885,0.625],[17.855,0.635],[17.835,0.645],[17.815,0.655],
  [17.855,0.665],[17.815,0.675],[17.885,0.685],[17.835,0.695],[17.805,0.705],[17.875,0.715],[17.845,0.725],[17.825,0.735],[17.865,0.745],[17.895,0.755],
  [17.825,0.765],[17.875,0.775],[17.845,0.785],[17.895,0.795],[17.865,0.805],[17.805,0.815],[17.835,0.825],[17.885,0.835],[17.815,0.845],[17.855,0.855],
  [17.905,0.465],[17.965,0.475],[17.995,0.485],[17.945,0.495],[17.975,0.505],[17.925,0.515],[17.985,0.525],[17.955,0.535],[17.935,0.545],[17.915,0.555],
  [17.955,0.565],[17.915,0.575],[17.985,0.585],[17.935,0.595],[17.905,0.605],[17.975,0.615],[17.945,0.625],[17.925,0.635],[17.965,0.645],[17.995,0.655],
  [17.925,0.665],[17.975,0.675],[17.945,0.685],[17.995,0.695],[17.965,0.705],[17.905,0.715],[17.935,0.725],[17.985,0.735],[17.915,0.745],[17.955,0.755],
  [17.985,0.765],[17.935,0.775],[17.905,0.785],[17.965,0.795],[17.925,0.805],[17.995,0.815],[17.955,0.825],[17.915,0.835],[17.975,0.845],[17.945,0.855],
  [18.055,0.465],[18.015,0.475],[18.085,0.485],[18.035,0.495],[18.005,0.505],[18.075,0.515],[18.045,0.525],[18.025,0.535],[18.065,0.545],[18.095,0.555],
  [18.025,0.565],[18.075,0.575],[18.045,0.585],[18.095,0.595],[18.065,0.605],[18.005,0.615],[18.035,0.625],[18.085,0.635],[18.015,0.645],[18.055,0.655],
  [18.085,0.665],[18.035,0.675],[18.005,0.685],[18.065,0.695],[18.025,0.705],[18.095,0.715],[18.055,0.725],[18.015,0.735],[18.075,0.745],[18.045,0.755],
  [18.005,0.765],[18.065,0.775],[18.095,0.785],[18.045,0.795],[18.075,0.805],[18.025,0.815],[18.085,0.825],[18.055,0.835],[18.035,0.845],[18.015,0.855],
  [18.125,0.465],[18.175,0.475],[18.145,0.485],[18.195,0.495],[18.165,0.505],[18.105,0.515],[18.135,0.525],[18.185,0.535],[18.115,0.545],[18.155,0.555],
  [18.185,0.565],[18.135,0.575],[18.105,0.585],[18.165,0.595],[18.125,0.605],[18.195,0.615],[18.155,0.625],[18.115,0.635],[18.175,0.645],[18.145,0.655],
  [18.105,0.665],[18.165,0.675],[18.195,0.685],[18.145,0.695],[18.175,0.705],[18.125,0.715],[18.185,0.725],[18.155,0.735],[18.135,0.745],[18.115,0.755],
  [18.155,0.765],[18.115,0.775],[18.185,0.785],[18.135,0.795],[18.105,0.805],[18.175,0.815],[18.145,0.825],[18.125,0.835],[18.165,0.845],[18.195,0.855],
  [18.285,0.465],[18.235,0.475],[18.205,0.485],[18.265,0.495],[18.225,0.505],[18.295,0.515],[18.255,0.525],[18.215,0.535],[18.275,0.545],[18.245,0.555],
  [18.205,0.565],[18.265,0.575],[18.295,0.585],[18.245,0.595],[18.275,0.605],[18.225,0.615],[18.285,0.625],[18.255,0.635],[18.235,0.645],[18.215,0.655],
  [18.255,0.665],[18.215,0.675],[18.285,0.685],[18.235,0.695],[18.205,0.705],[18.275,0.715],[18.245,0.725],[18.225,0.735],[18.265,0.745],[18.295,0.755],
  [18.225,0.765],[18.275,0.775],[18.245,0.785],[18.295,0.795],[18.265,0.805],[18.205,0.815],[18.235,0.825],[18.285,0.835],[18.215,0.845],[18.255,0.855],
  [18.305,0.465],[18.365,0.475],[18.395,0.485],[18.345,0.495],[18.375,0.505],[18.325,0.515],[18.385,0.525],[18.355,0.535],[18.335,0.545],[18.315,0.555],
  [18.355,0.565],[18.315,0.575],[18.385,0.585],[18.335,0.595],[18.305,0.605],[18.375,0.615],[18.345,0.625],[18.325,0.635],[18.365,0.645],[18.395,0.655],
  [18.325,0.665],[18.375,0.675],[18.345,0.685],[18.395,0.695],[18.365,0.705],[18.305,0.715],[18.335,0.725],[18.385,0.735],[18.315,0.745],[18.355,0.755],
  [18.385,0.765],[18.335,0.775],[18.305,0.785],[18.365,0.795],[18.325,0.805],[18.395,0.815],[18.355,0.825],[18.315,0.835],[18.375,0.845],[18.345,0.855],
  [18.455,0.465],[18.415,0.475],[18.485,0.485],[18.435,0.495],[18.405,0.505],[18.475,0.515],[18.445,0.525],[18.425,0.535],[18.465,0.545],[18.495,0.555],
  [18.425,0.565],[18.475,0.575],[18.445,0.585],[18.495,0.595],[18.465,0.605],[18.405,0.615],[18.435,0.625],[18.485,0.635],[18.415,0.645],[18.455,0.655],
  [18.485,0.665],[18.435,0.675],[18.405,0.685],[18.465,0.695],[18.425,0.705],[18.495,0.715],[18.455,0.725],[18.415,0.735],[18.475,0.745],[18.445,0.755],
  [18.405,0.765],[18.465,0.775],[18.495,0.785],[18.445,0.795],[18.475,0.805],[18.425,0.815],[18.485,0.825],[18.455,0.835],[18.435,0.845],[18.415,0.855]
];

// third layer, densest part (ratio ~0.50-0.80)
var dataCore2 = [
  [17.232,0.52],[17.278,0.54],[17.252,0.56],[17.212,0.58],[17.288,0.60],[17.242,0.62],[17.268,0.64],[17.222,0.66],
  [17.298,0.68],[17.258,0.70],[17.208,0.72],[17.272,0.74],[17.238,0.76],[17.292,0.78],[17.218,0.80],
  [17.332,0.52],[17.378,0.54],[17.352,0.56],[17.312,0.58],[17.388,0.60],[17.342,0.62],[17.368,0.64],[17.322,0.66],
  [17.398,0.68],[17.358,0.70],[17.308,0.72],[17.372,0.74],[17.338,0.76],[17.392,0.78],[17.318,0.80],
  [17.432,0.52],[17.478,0.54],[17.452,0.56],[17.412,0.58],[17.488,0.60],[17.442,0.62],[17.468,0.64],[17.422,0.66],
  [17.498,0.68],[17.458,0.70],[17.408,0.72],[17.472,0.74],[17.438,0.76],[17.492,0.78],[17.418,0.80],
  [17.532,0.52],[17.578,0.54],[17.552,0.56],[17.512,0.58],[17.588,0.60],[17.542,0.62],[17.568,0.64],[17.522,0.66],
  [17.598,0.68],[17.558,0.70],[17.508,0.72],[17.572,0.74],[17.538,0.76],[17.592,0.78],[17.518,0.80],
  [17.638,0.50],[17.682,0.51],[17.612,0.52],[17.668,0.53],[17.692,0.54],[17.648,0.55],[17.602,0.56],[17.678,0.57],[17.622,0.58],[17.658,0.59],
  [17.662,0.60],[17.618,0.61],[17.688,0.62],[17.632,0.63],[17.652,0.64],[17.608,0.65],[17.672,0.66],[17.642,0.67],[17.698,0.68],[17.628,0.69],
  [17.748,0.70],[17.792,0.71],[17.722,0.72],[17.778,0.73],[17.702,0.74],[17.762,0.75],[17.738,0.76],[17.788,0.77],[17.712,0.78],[17.768,0.79],
  [17.648,0.70],[17.692,0.71],[17.622,0.72],[17.678,0.73],[17.602,0.74],[17.662,0.75],[17.638,0.76],[17.688,0.77],[17.612,0.78],[17.668,0.79],
  [17.762,0.50],[17.718,0.51],[17.788,0.52],[17.732,0.53],[17.752,0.54],[17.708,0.55],[17.772,0.56],[17.742,0.57],[17.798,0.58],[17.728,0.59],
  [17.738,0.60],[17.782,0.61],[17.712,0.62],[17.768,0.63],[17.792,0.64],[17.748,0.65],[17.702,0.66],[17.778,0.67],[17.722,0.68],[17.758,0.69],
  [17.848,0.50],[17.892,0.51],[17.822,0.52],[17.878,0.53],[17.802,0.54],[17.862,0.55],[17.838,0.56],[17.888,0.57],[17.812,0.58],[17.868,0.59],
  [17.838,0.60],[17.882,0.61],[17.812,0.62],[17.868,0.63],[17.892,0.64],[17.848,0.65],[17.802,0.66],[17.878,0.67],[17.822,0.68],[17.858,0.69],
  [17.862,0.70],[17.818,0.71],[17.888,0.72],[17.832,0.73],[17.852,0.74],[17.808,0.75],[17.872,0.76],[17.842,0.77],[17.898,0.78],[17.828,0.79],
  [17.938,0.50],[17.982,0.51],[17.912,0.52],[17.968,0.53],[17.992,0.54],[17.948,0.55],[17.902,0.56],[17.978,0.57],[17.922,0.58],[17.958,0.59],
  [17.962,0.60],[17.918,0.61],[17.988,0.62],[17.932,0.63],[17.952,0.64],[17.908,0.65],[17.972,0.66],[17.942,0.67],[17.998,0.68],[17.928,0.69],
  [17.948,0.70],[17.992,0.71],[17.922,0.72],[17.978,0.73],[17.902,0.74],[17.962,0.75],[17.938,0.76],[17.988,0.77],[17.912,0.78],[17.968,0.79],
  [18.062,0.50],[18.018,0.51],[18.088,0.52],[18.032,0.53],[18.052,0.54],[18.008,0.55],[18.072,0.56],[18.042,0.57],[18.098,0.58],[18.028,0.59],
  [18.048,0.60],[18.092,0.61],[18.022,0.62],[18.078,0.63],[18.002,0.64],[18.062,0.65],[18.038,0.66],[18.088,0.67],[18.012,0.68],[18.068,0.69],
  [18.038,0.70],[18.082,0.71],[18.012,0.72],[18.068,0.73],[18.092,0.74],[18.048,0.75],[18.002,0.76],[18.078,0.77],[18.022,0.78],[18.058,0.79],
  [18.148,0.50],[18.192,0.51],[18.122,0.52],[18.178,0.53],[18.102,0.54],[18.162,0.55],[18.138,0.56],[18.188,0.57],[18.112,0.58],[18.168,0.59],
  [18.138,0.60],[18.182,0.61],[18.112,0.62],[18.168,0.63],[18.192,0.64],[18.148,0.65],[18.102,0.66],[18.178,0.67],[18.122,0.68],[18.158,0.69],
  [18.162,0.70],[18.118,0.71],[18.188,0.72],[18.132,0.73],[18.152,0.74],[18.108,0.75],[18.172,0.76],[18.142,0.77],[18.198,0.78],[18.128,0.79],
  [18.238,0.50],[18.282,0.51],[18.212,0.52],[18.268,0.53],[18.292,0.54],[18.248,0.55],[18.202,0.56],[18.278,0.57],[18.222,0.58],[18.258,0.59],
  [18.262,0.60],[18.218,0.61],[18.288,0.62],[18.232,0.63],[18.252,0.64],[18.208,0.65],[18.272,0.66],[18.242,0.67],[18.298,0.68],[18.228,0.69],
  [18.248,0.70],[18.292,0.71],[18.222,0.72],[18.278,0.73],[18.202,0.74],[18.262,0.75],[18.238,0.76],[18.288,0.77],[18.212,0.78],[18.268,0.79],
  [18.362,0.50],[18.318,0.51],[18.388,0.52],[18.332,0.53],[18.352,0.54],[18.308,0.55],[18.372,0.56],[18.342,0.57],[18.398,0.58],[18.328,0.59],
  [18.348,0.60],[18.392,0.61],[18.322,0.62],[18.378,0.63],[18.302,0.64],[18.362,0.65],[18.338,0.66],[18.388,0.67],[18.312,0.68],[18.368,0.69],
  [18.338,0.70],[18.382,0.71],[18.312,0.72],[18.368,0.73],[18.392,0.74],[18.348,0.75],[18.302,0.76],[18.378,0.77],[18.322,0.78],[18.358,0.79],
  [18.448,0.50],[18.492,0.51],[18.422,0.52],[18.478,0.53],[18.402,0.54],[18.462,0.55],[18.438,0.56],[18.488,0.57],[18.412,0.58],[18.468,0.59],
  [18.438,0.60],[18.482,0.61],[18.412,0.62],[18.468,0.63],[18.492,0.64],[18.448,0.65],[18.402,0.66],[18.478,0.67],[18.422,0.68],[18.458,0.69],
  [18.462,0.70],[18.418,0.71],[18.488,0.72],[18.432,0.73],[18.452,0.74],[18.408,0.75],[18.472,0.76],[18.442,0.77],[18.498,0.78],[18.428,0.79]
];

var dataLow = [
  [16.05,0.257],[16.10,0.174],[16.22,0.344],[16.29,0.346],[16.28,0.232],[16.34,0.192],[16.26,0.073],[16.42,0.222],
  [16.47,0.225],[16.47,0.248],[16.58,0.319],[16.57,0.342],[16.45,0.316],[16.42,0.350],[16.63,0.261],[16.67,0.253],
  [16.62,0.195],[16.60,0.074],[16.70,0.145],[16.71,0.321],[16.77,0.276],[16.81,0.211],[16.91,0.034],[16.92,0.211],
  [17.01,0.199],[17.06,0.171],[17.03,0.350],[17.12,0.350],[17.18,0.344],[17.17,0.319],[17.12,0.301],[17.15,0.176],
  [17.17,0.051],[17.33,0.085],[17.35,0.197],[17.41,0.229],[17.40,0.308],[17.42,0.316],[17.42,0.138],[17.49,0.251],
  [17.50,0.316],[17.54,0.288],[17.57,0.266],[17.63,0.283],[17.62,0.325],[17.68,0.209],[17.71,0.280],[17.73,0.053],
  [17.77,0.239],[17.79,0.253],[17.79,0.302],[17.79,0.324],[17.84,0.335],[17.87,0.319],[17.95,0.304],[17.99,0.282],
  [17.94,0.267],[18.00,0.308],[18.03,0.169],[18.07,0.181],[18.09,0.204],[18.12,0.195],[18.14,0.160],[18.15,0.132],
  [18.16,0.237],[18.21,0.158],[18.06,0.262],[18.11,0.290],[18.15,0.280],[18.21,0.271],[18.25,0.280],[18.16,0.299],
  [18.18,0.308],[18.23,0.308],[18.28,0.028],[18.32,0.304],[18.34,0.318],[18.38,0.346],[18.40,0.341],[18.44,0.268],
  [18.44,0.248],[18.46,0.248],[18.42,0.202],[18.40,0.176],[18.49,0.292],[16.10,0.355],
  [16.05,0.439],[16.22,0.468],[16.22,0.440],[16.33,0.466],[16.38,0.443],[16.47,0.420],[16.49,0.440],[16.26,0.406],
  [16.18,0.369],[16.23,0.346],[16.30,0.346],[16.59,0.425],[16.66,0.411],[16.58,0.341],[16.66,0.383],[16.95,0.411],
  [17.02,0.443],[17.06,0.439],[17.13,0.425],[17.03,0.364],[17.16,0.369],[17.23,0.388],[17.29,0.388],[17.33,0.411],
  [17.37,0.378],[17.38,0.341],[17.44,0.355],[17.51,0.383],[17.52,0.346],[17.56,0.411],[17.61,0.374],[17.69,0.392],
  [17.72,0.369],[17.76,0.411],[17.82,0.374],[17.86,0.341],[18.02,0.411],[18.05,0.392],[18.10,0.369],[18.21,0.401],
  [18.26,0.378],[18.31,0.360],[18.36,0.388],[18.43,0.355],[18.47,0.406],[18.49,0.374]
];

var W = 1049, H = 604;
var plotLeft = 81.7, plotRight = 1049.5, plotTop = 14, plotBottom = 547.3;

var svg = d3.select("#chart-area").append("svg")
  .attr("width", W)
  .attr("height", H);

var x = d3.scaleLinear().domain([13.053, 18.607]).range([plotLeft, plotRight]);
var y = d3.scaleLinear().domain([-0.0558, 1.431]).range([plotBottom, plotTop]);

svg.append("defs").append("clipPath").attr("id", "plot-clip")
  .append("rect")
  .attr("x", plotLeft).attr("y", plotTop)
  .attr("width", plotRight - plotLeft).attr("height", plotBottom - plotTop);

var plot = svg.append("g").attr("clip-path", "url(#plot-clip)");

var allData = dataLeft.concat(dataMid, dataTop, data16, data17, data18, dataCore, dataCore2, dataLow);

plot.selectAll("circle.dot")
  .data(allData)
  .enter().append("circle")
  .attr("class", "dot")
  .attr("cx", (d) => x(d[0]))
  .attr("cy", (d) => y(d[1]))
  .attr("r", 2.8)
  .attr("fill", "#ffa500");

plot.append("line")
  .attr("x1", x(splitFrom)).attr("x2", x(splitTo))
  .attr("y1", y(splitRatio)).attr("y2", y(splitRatio))
  .attr("stroke", "#ff0000")
  .attr("stroke-width", 4);

var plusPath = "M-2.2,-6.5H2.2V-2.2H6.5V2.2H2.2V6.5H-2.2V2.2H-6.5V-2.2H-2.2Z";
var triPath = "M0,-6.5L6.5,6.5H-6.5Z";
var blue = "#6f7ff0";

plot.selectAll("path.cand")
  .data(candMag)
  .enter().append("path")
  .attr("class", "cand")
  .attr("d", plusPath)
  .attr("transform", (d, i) => `translate(${x(d)},${y(candRatio[i])})`)
  .attr("fill", "#000")
  .attr("stroke", "#000")
  .attr("stroke-width", 1);

plot.selectAll("path.pub")
  .data(pubMag)
  .enter().append("path")
  .attr("class", "pub")
  .attr("d", triPath)
  .attr("transform", (d, i) => `translate(${x(d)},${y(pubRatio[i])})`)
  .attr("fill", blue)
  .attr("stroke", blue)
  .attr("stroke-width", 0.8);

// candidate names, rotated, starting just above the marker
svg.selectAll("text.cand-label")
  .data(candMag.map((m, i) => ({ m: m, r: candRatio[i], name: candNames[i] })).filter((d) => d.name))
  .enter().append("text")
  .attr("class", "cand-label")
  .attr("transform", (d) => `translate(${x(d.m)},${y(d.r) - 13}) rotate(-90)`)
  .attr("x", 0)
  .attr("y", 7)
  .attr("font-size", "19px")
  .attr("font-weight", "bold")
  .attr("fill", "#000")
  .text((d) => d.name);

// axes
var xAxis = d3.axisBottom(x).tickValues(xTicks).tickSize(5).tickPadding(5).tickSizeOuter(0).tickFormat(d3.format("d"));
var yAxis = d3.axisLeft(y).tickValues(yTicks).tickSize(5).tickPadding(4).tickSizeOuter(0).tickFormat(d3.format(".1f"));

var gx = svg.append("g").attr("transform", `translate(0,${plotBottom})`).call(xAxis);
var gy = svg.append("g").attr("transform", `translate(${plotLeft},0)`).call(yAxis);
[gx, gy].forEach((g) => {
  g.select(".domain").remove();
  g.attr("font-family", "DejaVu Sans, sans-serif").attr("font-size", "22px");
  g.selectAll(".tick line").attr("stroke", "#333").attr("stroke-width", 1);
  g.selectAll(".tick text").attr("fill", "#000");
});

// spines
var spine = svg.append("g").attr("stroke", "#666").attr("stroke-width", 1.1).attr("fill", "none");
spine.append("line").attr("x1", plotLeft).attr("x2", plotLeft).attr("y1", plotTop).attr("y2", plotBottom);
spine.append("line").attr("x1", plotLeft).attr("x2", plotRight).attr("y1", plotBottom).attr("y2", plotBottom);
spine.append("line").attr("x1", plotLeft).attr("x2", plotRight).attr("y1", plotTop).attr("y2", plotTop);

// axis labels
svg.append("text")
  .attr("x", (plotLeft + plotRight) / 2)
  .attr("y", 598)
  .attr("text-anchor", "middle")
  .attr("font-size", "22px")
  .attr("fill", "#000")
  .text("Magnitúda");

svg.append("text")
  .attr("transform", `translate(28,${(plotTop + plotBottom) / 2}) rotate(-90)`)
  .attr("text-anchor", "middle")
  .attr("font-size", "22px")
  .attr("fill", "#000")
  .text("Pomer plôch nad a pod krivkou");

// legend
var legend = svg.append("g");
legend.append("rect")
  .attr("x", 90.5).attr("y", 23.5)
  .attr("width", 181).attr("height", 121)
  .attr("rx", 4)
  .attr("fill", "#fff").attr("fill-opacity", 0.8)
  .attr("stroke", "#d6d6d6").attr("stroke-width", 1);

var rowY = [41, 70, 99, 126];
legend.append("circle").attr("cx", 118).attr("cy", rowY[0]).attr("r", 2.8).attr("fill", "#ffa500");
legend.append("path").attr("d", plusPath).attr("transform", `translate(118,${rowY[1]})`)
  .attr("fill", "#000").attr("stroke", "#000").attr("stroke-width", 1);
legend.append("path").attr("d", triPath).attr("transform", `translate(118,${rowY[2]})`)
  .attr("fill", blue).attr("stroke", blue).attr("stroke-width", 0.8);
legend.append("line").attr("x1", 97).attr("x2", 139).attr("y1", rowY[3]).attr("y2", rowY[3])
  .attr("stroke", "#ff0000").attr("stroke-width", 4);

legend.selectAll("text.leg")
  .data(legendLabels)
  .enter().append("text")
  .attr("class", "leg")
  .attr("x", 153.7)
  .attr("y", (d, i) => rowY[i] + 6.5)
  .attr("font-size", "19px")
  .attr("fill", "#000")
  .text((d) => d);
</script>
</body>
</html>
